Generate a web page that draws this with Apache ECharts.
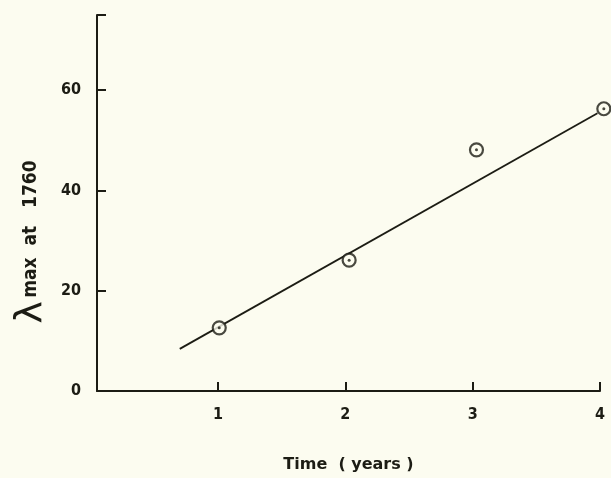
<!DOCTYPE html>
<html>
<head>
<meta charset="utf-8">
<script src="https://cdn.jsdelivr.net/npm/echarts@6/dist/echarts.min.js"></script>
<style>
  html, body { margin: 0; padding: 0; background: #fcfcf0; }
  #chart { width: 611px; height: 478px; }
</style>
</head>
<body>
<div id="chart"></div>
<script>
// ---- data ----
const pointX = [1.01, 2.03, 3.03, 4.03];
const pointY = [12.6, 26.1, 48.1, 56.3];

// fitted straight line (two end points)
const fitX = [0.70, 3.98];
const fitY = [8.4, 55.4];

const xTicks = [1, 2, 3, 4];
const yLabels = [0, 20, 40, 60];
const yTicks = [20, 40, 60, 75];

const ink = '#1c1c14';
const font = 'DejaVu Sans Condensed';

const points = pointX.map((x, i) => [x, pointY[i]]);
const fit = fitX.map((x, i) => [x, fitY[i]]);

const chart = echarts.init(document.getElementById('chart'));

chart.setOption({
    backgroundColor: '#fcfcf0',
    animation: false,
    grid: { left: 97, right: 11, top: 15, bottom: 87, outerBoundsMode: 'none', containLabel: false },

    xAxis: {
        type: 'value',
        min: 0.05,
        max: 4,
        name: 'Time  ( years )',
        nameLocation: 'middle',
        nameGap: 66,
        nameTextStyle: { color: ink, fontFamily: 'DejaVu Sans', fontWeight: 'bold', fontSize: 16 },
        axisLine: { lineStyle: { color: ink, width: 2 } },
        axisTick: { inside: true, length: 9, customValues: xTicks, lineStyle: { color: ink, width: 2 } },
        axisLabel: { customValues: xTicks, margin: 16, color: ink, fontFamily: font, fontWeight: 'bold', fontSize: 16 },
        splitLine: { show: false }
    },

    yAxis: {
        type: 'value',
        min: 0,
        max: 75,
        name: '{l|λ} {t|max  at   1760}',
        nameLocation: 'middle',
        nameRotate: 90,
        nameGap: 47,
        nameTextStyle: {
            padding: [0, 78, 0, 0],
            rich: {
                l: { fontSize: 38, color: ink, fontFamily: 'DejaVu Sans' },
                t: { fontSize: 19, color: ink, fontFamily: font, fontWeight: 'bold' }
            }
        },
        axisLine: { lineStyle: { color: ink, width: 2 } },
        axisTick: { inside: true, length: 9, customValues: yTicks, lineStyle: { color: ink, width: 2 } },
        axisLabel: { customValues: yLabels, margin: 16, color: ink, fontFamily: font, fontWeight: 'bold', fontSize: 16 },
        splitLine: { show: false }
    },

    series: [
        {
            type: 'line',
            data: fit,
            symbol: 'none',
            lineStyle: { color: ink, width: 1.8 }
        },
        {
            type: 'scatter',
            data: points,
            clip: false,
            symbol: 'circle',
            symbolSize: 13,
            itemStyle: { color: '#fcfcf0', borderColor: ink, borderWidth: 2.2 },
            z: 3
        },
        {
            type: 'scatter',
            data: points,
            clip: false,
            symbol: 'circle',
            symbolSize: 3,
            itemStyle: { color: ink },
            z: 4
        }
    ]
});
</script>
</body>
</html>
